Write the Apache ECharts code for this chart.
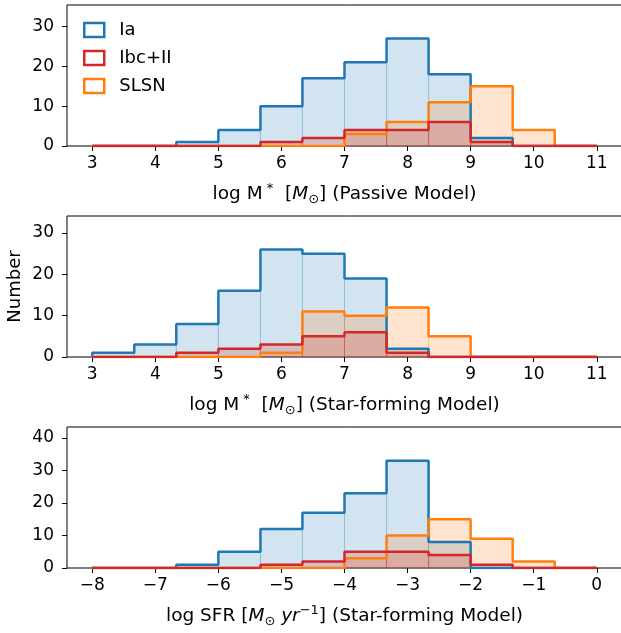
<!DOCTYPE html>
<html>
<head>
<meta charset="utf-8">
<script src="https://cdn.jsdelivr.net/npm/echarts@6/dist/echarts.min.js"></script>
<style>
html, body { margin: 0; padding: 0; background: #fff; }
#main { width: 621px; height: 633px; }
</style>
</head>
<body>
<div id="main"></div>
<script>
// bin edges (12 bins each)
var massEdges = [3, 3.667, 4.333, 5, 5.667, 6.333, 7, 7.667, 8.333, 9, 9.667, 10.333, 11];
var sfrEdges = [-8, -7.333, -6.667, -6, -5.333, -4.667, -4, -3.333, -2.667, -2, -1.333, -0.667, 0];

// counts, passive model
var passiveIa = [0, 0, 1, 4, 10, 17, 21, 27, 18, 2, 0, 0];
var passiveIbc = [0, 0, 0, 0, 1, 2, 4, 4, 6, 1, 0, 0];
var passiveSLSN = [0, 0, 0, 0, 0, 0, 3, 6, 11, 15, 4, 0];

// counts, star-forming model (mass)
var sfIa = [1, 3, 8, 16, 26, 25, 19, 2, 0, 0, 0, 0];
var sfIbc = [0, 0, 1, 2, 3, 5, 6, 1, 0, 0, 0, 0];
var sfSLSN = [0, 0, 0, 0, 1, 11, 10, 12, 5, 0, 0, 0];

// counts, star-forming model (SFR)
var sfrIa = [0, 0, 1, 5, 12, 17, 23, 33, 8, 0, 0, 0];
var sfrIbc = [0, 0, 0, 0, 1, 2, 5, 5, 4, 1, 0, 0];
var sfrSLSN = [0, 0, 0, 0, 0, 0, 3, 10, 15, 9, 2, 0];

var massTicks = [3, 4, 5, 6, 7, 8, 9, 10, 11];
var sfrTicks = [-8, -7, -6, -5, -4, -3, -2, -1, 0];
var countTicks = [0, 10, 20, 30];
var countTicksBig = [0, 10, 20, 30, 40];

var FONT = 'DejaVu Sans';
var colors = { 'Ia': '#1f77b4', 'Ibc+II': '#d62728', 'SLSN': '#ff7f0e' };
var fills = { 'Ia': 'rgba(31,119,180,0.2)', 'Ibc+II': 'rgba(214,39,40,0.2)', 'SLSN': 'rgba(255,127,14,0.2)' };

// outline of a step histogram
function stepLine(edges, counts) {
    var pts = [[edges[0], 0]];
    for (var i = 0; i < counts.length; i++) {
        pts.push([edges[i], counts[i]]);
        pts.push([edges[i + 1], counts[i]]);
    }
    pts.push([edges[edges.length - 1], 0]);
    return pts;
}

function binRects(edges, counts) {
    var out = [];
    for (var i = 0; i < counts.length; i++) {
        if (counts[i] > 0) out.push([edges[i], edges[i + 1], counts[i]]);
    }
    return out;
}

function fillSeries(name, idx, edges, counts) {
    return {
        name: name,
        type: 'custom',
        xAxisIndex: idx,
        yAxisIndex: idx,
        z: 1,
        silent: true,
        encode: { x: [0, 1], y: 2 },
        data: binRects(edges, counts),
        renderItem: function (params, api) {
            var p0 = api.coord([api.value(0), 0]);
            var p1 = api.coord([api.value(1), api.value(2)]);
            return {
                type: 'rect',
                shape: { x: p0[0], y: p1[1], width: p1[0] - p0[0], height: p0[1] - p1[1] },
                style: { fill: fills[name], stroke: fills[name], lineWidth: 1 }
            };
        }
    };
}

function lineSeries(name, idx, edges, counts, z) {
    return {
        name: name,
        type: 'line',
        xAxisIndex: idx,
        yAxisIndex: idx,
        z: z,
        showSymbol: false,
        silent: true,
        color: colors[name],
        lineStyle: { width: 2.5, color: colors[name] },
        data: stepLine(edges, counts)
    };
}

var richName = {
    t: { fontSize: 18.5, lineHeight: 24, fontFamily: FONT, color: '#000' },
    it: { fontSize: 18.5, lineHeight: 24, fontFamily: FONT, fontStyle: 'italic', color: '#000' },
    sup: { fontSize: 13, lineHeight: 10, fontFamily: FONT, verticalAlign: 'top', color: '#000' },
    sub: { fontSize: 13, lineHeight: 14, fontFamily: FONT, verticalAlign: 'bottom', color: '#000' }
};

function xAxis(idx, min, max, ticks, name) {
    return {
        type: 'value',
        gridIndex: idx,
        min: min,
        max: max,
        name: name,
        nameLocation: 'middle',
        nameGap: 36,
        nameTextStyle: { rich: richName },
        axisLine: { show: false, onZero: false },
        axisTick: { show: true, length: 5, lineStyle: { color: '#000', width: 1 }, customValues: ticks },
        axisLabel: { fontSize: 17, fontFamily: FONT, color: '#000', margin: 9, customValues: ticks,
            formatter: function (v) { return String(v).replace('-', '\u2212'); } },
        splitLine: { show: false }
    };
}

function yAxis(idx, max, ticks, name) {
    return {
        type: 'value',
        gridIndex: idx,
        min: 0,
        max: max,
        name: name || '',
        nameLocation: 'middle',
        nameGap: 43,
        nameMoveOverlap: false,
        nameTextStyle: { fontSize: 18, fontFamily: FONT, color: '#000' },
        axisLine: { show: false, onZero: false },
        axisTick: { show: true, length: 5, lineStyle: { color: '#000', width: 1 }, customValues: ticks },
        axisLabel: { fontSize: 17, fontFamily: FONT, color: '#000', margin: 13, customValues: ticks },
        splitLine: { show: false }
    };
}

var gridBase = { left: 67, right: -1, height: 141, show: true, borderColor: '#000', borderWidth: 1,
    backgroundColor: 'transparent', containLabel: false, outerBoundsMode: 'none' };

var chart = echarts.init(document.getElementById('main'));
var option = {
    animation: false,
    backgroundColor: '#fff',
    textStyle: { fontFamily: FONT },
    grid: [
        Object.assign({ top: 5 }, gridBase),
        Object.assign({ top: 216 }, gridBase),
        Object.assign({ top: 427 }, gridBase)
    ],
    legend: {
        orient: 'vertical',
        left: 83,
        top: 21,
        padding: 0,
        itemWidth: 20,
        itemHeight: 14,
        itemGap: 10,
        selectedMode: false,
        textStyle: { fontSize: 18, fontFamily: FONT, color: '#000', padding: [0, 0, 0, 10] },
        data: [
            { name: 'Ia', icon: 'rect', itemStyle: { color: '#fff', borderColor: colors['Ia'], borderWidth: 2.5 } },
            { name: 'Ibc+II', icon: 'rect', itemStyle: { color: '#fff', borderColor: colors['Ibc+II'], borderWidth: 2.5 } },
            { name: 'SLSN', icon: 'rect', itemStyle: { color: '#fff', borderColor: colors['SLSN'], borderWidth: 2.5 } }
        ]
    },
    xAxis: [
        xAxis(0, 2.6, 11.4, massTicks, '{t|log M}{sup| *}{t|  [}{it|M}{sub|\u2299}{t|] (Passive Model)}'),
        xAxis(1, 2.6, 11.4, massTicks, '{t|log M}{sup| *}{t|  [}{it|M}{sub|\u2299}{t|] (Star-forming Model)}'),
        xAxis(2, -8.4, 0.4, sfrTicks, '{t|log SFR [}{it|M}{sub|\u2299}{it| yr}{sup|\u22121}{t|] (Star-forming Model)}')
    ],
    yAxis: [
        yAxis(0, 35.4, countTicks),
        yAxis(1, 34.1, countTicks, 'Number'),
        yAxis(2, 43.4, countTicksBig)
    ],
    series: [
        fillSeries('Ia', 0, massEdges, passiveIa),
        fillSeries('SLSN', 0, massEdges, passiveSLSN),
        fillSeries('Ibc+II', 0, massEdges, passiveIbc),
        lineSeries('Ia', 0, massEdges, passiveIa, 3),
        lineSeries('SLSN', 0, massEdges, passiveSLSN, 4),
        lineSeries('Ibc+II', 0, massEdges, passiveIbc, 5),

        fillSeries('Ia', 1, massEdges, sfIa),
        fillSeries('SLSN', 1, massEdges, sfSLSN),
        fillSeries('Ibc+II', 1, massEdges, sfIbc),
        lineSeries('Ia', 1, massEdges, sfIa, 3),
        lineSeries('SLSN', 1, massEdges, sfSLSN, 4),
        lineSeries('Ibc+II', 1, massEdges, sfIbc, 5),

        fillSeries('Ia', 2, sfrEdges, sfrIa),
        fillSeries('SLSN', 2, sfrEdges, sfrSLSN),
        fillSeries('Ibc+II', 2, sfrEdges, sfrIbc),
        lineSeries('Ia', 2, sfrEdges, sfrIa, 3),
        lineSeries('SLSN', 2, sfrEdges, sfrSLSN, 4),
        lineSeries('Ibc+II', 2, sfrEdges, sfrIbc, 5)
    ]
};
chart.setOption(option);
</script>
</body>
</html>
